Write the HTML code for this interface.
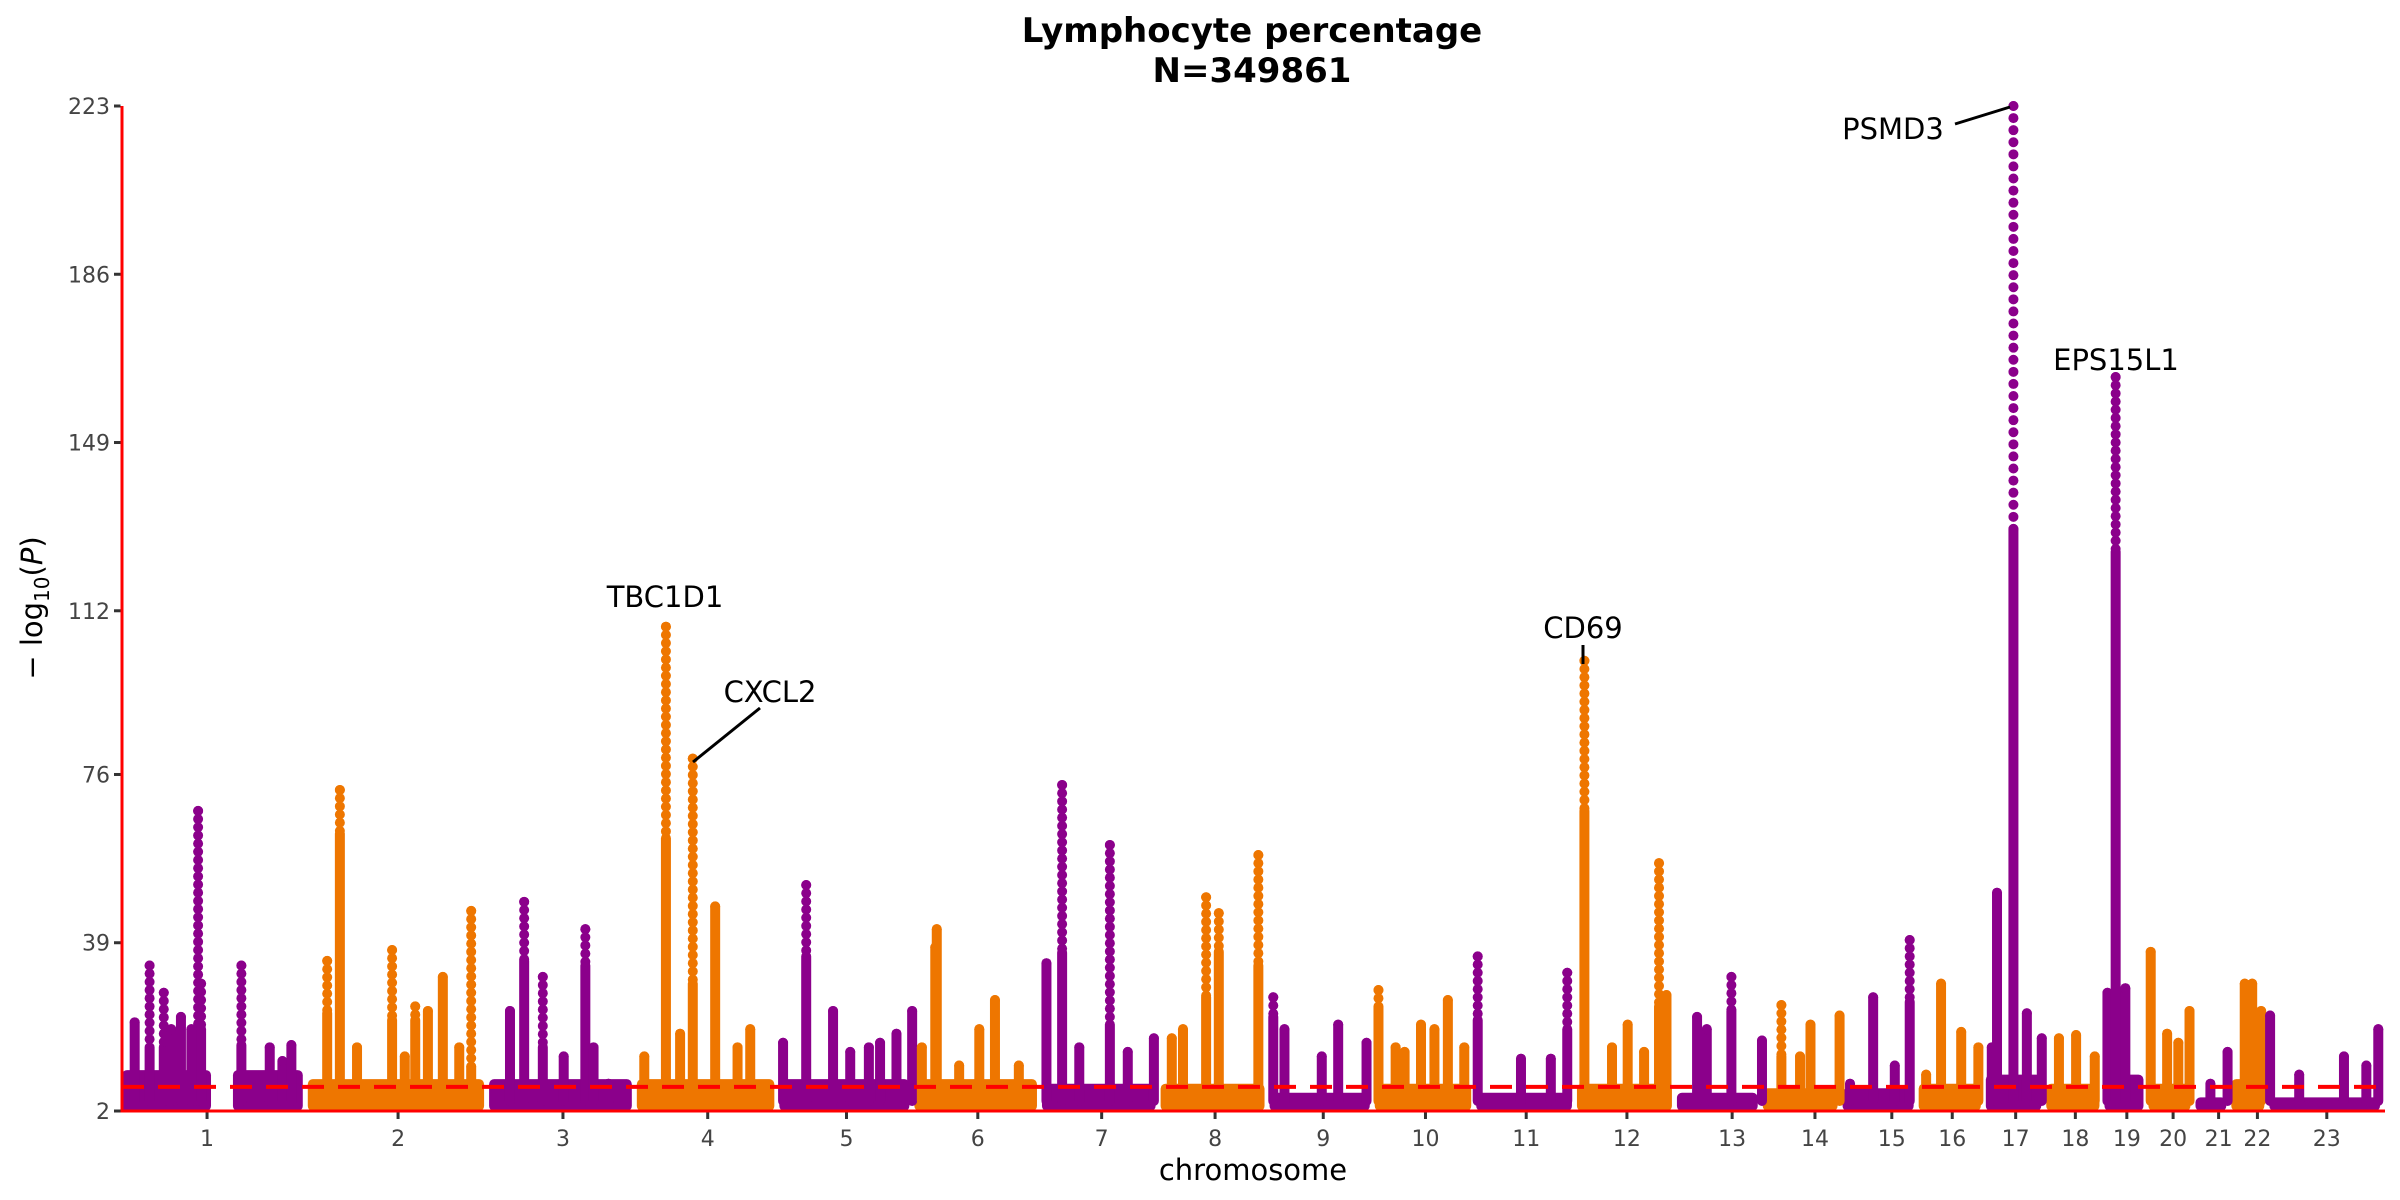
<!DOCTYPE html>
<html><head><meta charset="utf-8"><title>Lymphocyte percentage Manhattan plot</title>
<style>
html,body{margin:0;padding:0;background:#fff;}
svg{display:block;font-family:"DejaVu Sans","Liberation Sans",sans-serif;}
</style></head>
<body>
<svg id="chart" width="2400" height="1200" viewBox="0 0 2400 1200">
  <text x="1252" y="42" text-anchor="middle" font-size="34" font-weight="bold" fill="#000">Lymphocyte percentage</text>
  <text x="1252" y="82" text-anchor="middle" font-size="34" font-weight="bold" fill="#000">N=349861</text>
  <g id="bands"></g>
  <g id="points"></g>
  <g id="axes"></g>
  <text x="1253" y="1180" text-anchor="middle" font-size="29" fill="#000">chromosome</text>
  <text transform="translate(42,608) rotate(-90)" text-anchor="middle" font-size="29" fill="#000">− log<tspan font-size="20" dy="7">10</tspan><tspan dy="-7">(</tspan><tspan font-style="italic">P</tspan>)</text>
  <g>
    <text x="665" y="607" text-anchor="middle" font-size="29">TBC1D1</text>
    <text x="770" y="702" text-anchor="middle" font-size="29">CXCL2</text>
    <line x1="693" y1="762" x2="760" y2="708" stroke="#000" stroke-width="3"/>
    <text x="1583" y="638" text-anchor="middle" font-size="29">CD69</text>
    <line x1="1583" y1="645" x2="1583" y2="664" stroke="#000" stroke-width="3"/>
    <text x="1893" y="139" text-anchor="middle" font-size="29">PSMD3</text>
    <line x1="1955" y1="124" x2="2010" y2="107" stroke="#000" stroke-width="3"/>
    <text x="2116" y="370" text-anchor="middle" font-size="29">EPS15L1</text>
  </g>
</svg>
<script>
const chromNames = ["1","2","3","4","5","6","7","8","9","10","11","12","13","14","15","16","17","18","19","20","21","22","23"];
const chromLengths = [249,243,198,191,181,171,159,146,141,136,135,134,115,107,102,90,81,78,59,63,48,51,155];
const tickPositions = [114,121,99,95,90,85,80,73,72,68,67,67,74,70,66,45,40,39,30,33,31,35,77];
const bandTops = [11,9,9,9,9,9,8,8,6,8,6,8,6,7,7,8,10,8,10,8,5,9,5];
const gaps = [[1,126,142]];
const yTicks = [2,39,76,112,149,186,223];
const threshold = 7.3;
// [chrom, position (Mb), max -log10P, top of solid column]
const peaks = [
 [1,17,21.5,21.5],[1,37,34,16],[1,56,28,16],[1,66,20,20],[1,79,22.7,22.7],[1,93,20,20],[1,102,68,20.5],[1,106,30,20],[1,160,34,16.5],[1,198,16,16],[1,215,13,13],[1,227,16.5,16.5],
 [2,26,35,23.5],[2,43,72.6,63],[2,66,16,16],[2,113,37.4,22],[2,130,14,14],[2,144,25,22],[2,161,24,24],[2,181,31.5,31.5],[2,203,16,16],[2,219,46,11.7],
 [3,28,24,24],[3,47,48,35],[3,72,31.5,16],[3,100,14,14],[3,129,42,34],[3,140,16,16],[3,160,8,8],
 [4,10,14,14],[4,39,108.5,62],[4,58,19,19],[4,75,79.5,30],[4,105,47,47],[4,135,16,16],[4,152,20,20],
 [5,5,17,17],[5,36,51.7,36],[5,72,24,24],[5,95,15,15],[5,120,16,16],[5,135,17,17],[5,157,19,19],[5,178,24,24],
 [6,10,16,16],[6,28,38,38],[6,30,42,42],[6,60,12,12],[6,87,20,20],[6,108,26.4,26.4],[6,140,12,12],
 [7,6,34.5,34.5],[7,27,73.7,36.8],[7,50,16,16],[7,91,60.5,21],[7,115,15,15],[7,150,18,18],
 [8,15,18,18],[8,30,20,20],[8,61,49,27],[8,78,45.5,37],[8,131,58.3,34],
 [9,5,27,22.7],[9,20,20,20],[9,70,14,14],[9,92,21,21],[9,130,17,17],
 [10,5,28.6,25],[10,28,16,16],[10,40,15,15],[10,62,21,21],[10,80,20,20],[10,98,26.4,26.4],[10,120,16,16],
 [11,2,36,22],[11,60,13.5,13.5],[11,100,13.5,13.5],[11,122,32.4,20],
 [12,10,101,68],[12,47,16,16],[12,68,21,21],[12,90,15,15],[12,110,56.5,25],[12,120,27.5,27.5],
 [13,27,22.7,22.7],[13,40,20,20],[13,73,31.5,24],[13,114,17.5,17.5],
 [14,25,25.3,14],[14,50,14,14],[14,64,21,21],[14,103,23,23],
 [15,10,8,8],[15,41,27,27],[15,70,12,12],[15,90,39.6,26],
 [16,10,10,10],[16,30,30,30],[16,57,19.4,19.4],[16,80,16,16],
 [17,8,16,16],[17,15,50,50],[17,37,223,130],[17,55,23.5,23.5],[17,75,18,18],
 [18,17,18,18],[18,40,18.7,18.7],[18,65,14,14],
 [19,4,28,28],[19,15,163.4,125],[19,28,29,29],
 [20,3,37,37],[20,25,19,19],[20,40,17,17],[20,55,24,24],
 [21,20,8,8],[21,43,15,15],
 [22,18,30,30],[22,28,30,30],[22,40,24,24],
 [23,1,23,23],[23,40,10,10],[23,100,14,14],[23,130,12,12],[23,146,20,20]
];

const NS = "http://www.w3.org/2000/svg";
const X0 = 122, X1 = 2385, Y0 = 1111, Y1 = 106, VMIN = 2, VMAX = 223;
const totalLen = chromLengths.reduce((a,b)=>a+b,0);
const offsets = [];
let acc = 0;
for (const l of chromLengths) { offsets.push(acc); acc += l; }
function xScale(chr, pos){ return X0 + (offsets[chr-1] + pos) / totalLen * (X1 - X0); }
function yScale(v){ return Y0 - (v - VMIN) / (VMAX - VMIN) * (Y0 - Y1); }
function color(chr){ return chr % 2 === 1 ? "#8b008b" : "#ee7600"; }
function mk(tag, attrs, parent){ const e = document.createElementNS(NS, tag); for (const k in attrs) e.setAttribute(k, attrs[k]); parent.appendChild(e); return e; }

const bandsG = document.getElementById("bands");
const pointsG = document.getElementById("points");
const axesG = document.getElementById("axes");
const R = 5;

chromLengths.forEach((len, i) => {
  const chr = i + 1;
  let segs = [[0, len]];
  gaps.filter(g => g[0] === chr).forEach(g => {
    segs = segs.flatMap(s => (g[1] > s[0] && g[2] < s[1]) ? [[s[0], g[1]], [g[2], s[1]]] : [s]);
  });
  segs.forEach(s => {
    const xa = xScale(chr, s[0]) + (s[0] === 0 ? 0 : R), xb = xScale(chr, s[1]) - R;
    const r = mk("rect", {x: xa, y: yScale(bandTops[i]), width: Math.max(0, xb - xa), height: yScale(VMIN) - yScale(bandTops[i]), rx: R, fill: color(chr)}, bandsG);
    
    
  });
});

peaks.forEach(p => {
  const [chr, pos, max, solid] = p;
  const g = mk("g", {fill: color(chr)}, pointsG);
  
  
  const x = xScale(chr, pos);
  const yTop = yScale(solid), yBot = yScale(VMIN) - R;
  const col = mk("rect", {x: x - R, y: yTop - R, width: 2 * R, height: Math.max(0, yBot - yTop + R), rx: R}, g);
  
  
  if (max > solid) {
    const step = Math.max(1.8, (max - solid) / 35);
    for (let v = max; v > solid; v -= step) {
      const c = mk("circle", {cx: x, cy: yScale(v), r: R}, g);
      
      
    }
  }
  const top = mk("circle", {cx: x, cy: yScale(max), r: R}, g);
  
  
});

const th = mk("line", {x1: X0, x2: X1, y1: yScale(threshold), y2: yScale(threshold), stroke: "#ff0000", "stroke-width": 4, "stroke-dasharray": "22 14"}, axesG);



const ya = mk("line", {x1: X0, x2: X0, y1: Y1, y2: Y0 + 1.5, stroke: "#ff0000", "stroke-width": 3}, axesG);


const xa = mk("line", {x1: X0 - 1.5, x2: X1, y1: Y0, y2: Y0, stroke: "#ff0000", "stroke-width": 3}, axesG);



yTicks.forEach(v => {
  const y = yScale(v);
  const t = mk("line", {x1: X0 - 8, x2: X0 - 1.5, y1: y, y2: y, stroke: "#333", "stroke-width": 3}, axesG);
  
  
  const l = mk("text", {x: X0 - 12, y: y + 8, "text-anchor": "end", "font-size": 22, fill: "#444"}, axesG);
  l.textContent = v;
  
  
});

chromNames.forEach((n, i) => {
  const x = xScale(i + 1, tickPositions[i]);
  const t = mk("line", {x1: x, x2: x, y1: Y0 + 1.5, y2: Y0 + 8, stroke: "#333", "stroke-width": 3}, axesG);
  
  
  const l = mk("text", {x: x, y: Y0 + 35, "text-anchor": "middle", "font-size": 22, fill: "#444"}, axesG);
  l.textContent = n;
  
  
});
</script>
</body></html>
